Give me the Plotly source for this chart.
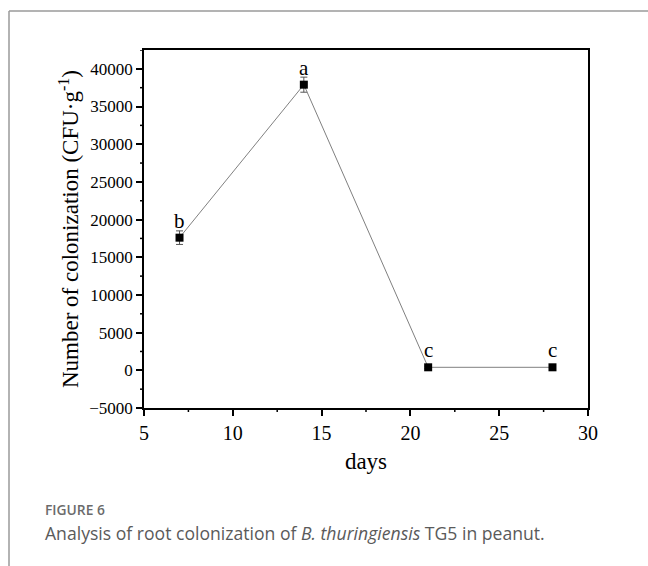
import plotly.graph_objects as go

# Colonization counts over time
days = [7, 14, 21, 28]
cfu = [17600, 37900, 400, 400]
cfu_err = [900, 1000, 150, 150]
letters = ["b", "a", "c", "c"]

x_ticks = [5, 10, 15, 20, 25, 30]
x_tick_text = ["5", "10", "15", "20", "25", "30"]
y_ticks = [-5000, 0, 5000, 10000, 15000, 20000, 25000, 30000, 35000, 40000]
y_tick_text = ["\u22125000", "0", "5000", "10000", "15000", "20000",
               "25000", "30000", "35000", "40000"]
x_minor = [7.5, 12.5, 17.5, 22.5, 27.5]
y_minor = [-2500, 2500, 7500, 12500, 17500, 22500, 27500, 32500, 37500, 42500]

W, H = 648, 566
L, R, T, B = 144, 588, 50, 408  # plot area in pixels

def px_x(px):
    return (px - L) / (R - L)

def px_y(py):
    return (B - py) / (B - T)

serif = "Liberation Serif"
sans = "Open Sans"

fig = go.Figure()
fig.add_trace(go.Scatter(
    x=days, y=cfu,
    mode="lines+markers",
    line=dict(color="#808080", width=1),
    marker=dict(symbol="square", size=8, color="black"),
    error_y=dict(type="data", array=cfu_err, color="#555555", thickness=1, width=3.5),
    showlegend=False,
))

for d, v, t in zip(days, cfu, letters):
    fig.add_annotation(x=d, y=v, text=t, showarrow=False, yshift=17,
                       font=dict(family=serif, size=21, color="black"))

fig.layout.xaxis = dict(
    range=[5, 30], tickmode="array", tickvals=x_ticks, ticktext=x_tick_text,
    tickfont=dict(family=serif, size=20, color="black"),
    showline=True, linecolor="black", linewidth=1.5, mirror=True,
    ticks="outside", ticklen=6, tickwidth=1.5, tickcolor="black",
    showgrid=False, zeroline=False,
    title=dict(text="days", font=dict(family=serif, size=23, color="black"), standoff=10),
)
fig.layout.yaxis = dict(
    range=[-5000, 42500], tickmode="array", tickvals=y_ticks, ticktext=y_tick_text,
    tickfont=dict(family=serif, size=17, color="black"),
    showline=True, linecolor="black", linewidth=1.5, mirror=True,
    ticks="outside", ticklen=6, tickwidth=1.5, tickcolor="black",
    showgrid=False, zeroline=False,
    title=dict(text="Number of colonization (CFU·g<sup>-1</sup>)",
               font=dict(family=serif, size=23, color="black"), standoff=4),
)

# Minor ticks drawn as short segments on the axis lines
for xv in x_minor:
    fig.add_shape(type="line", xref="x", yref="paper", x0=xv, x1=xv,
                  y0=0, y1=-4 / (B - T), line=dict(color="black", width=1.5))
for yv in y_minor:
    fig.add_shape(type="line", xref="paper", yref="y", y0=yv, y1=yv,
                  x0=0, x1=-4 / (R - L), line=dict(color="black", width=1.5))

# Page frame: top rule and left rule
fig.add_shape(type="line", xref="paper", yref="paper",
              x0=px_x(9), x1=px_x(W + 5), y0=px_y(11), y1=px_y(11),
              line=dict(color="#9a9a9a", width=1.5))
fig.add_shape(type="line", xref="paper", yref="paper",
              x0=px_x(9), x1=px_x(9), y0=px_y(11), y1=px_y(H + 5),
              line=dict(color="#9a9a9a", width=1.5))

# Caption
fig.add_annotation(xref="paper", yref="paper", x=px_x(43), y=px_y(509),
                   xanchor="left", yanchor="middle", showarrow=False,
                   text="FIGURE 6",
                   font=dict(family=sans, size=13.8, color="#6b6b6b", weight=600))
fig.add_annotation(xref="paper", yref="paper", x=px_x(43), y=px_y(533),
                   xanchor="left", yanchor="middle", showarrow=False,
                   text="Analysis of root colonization of <i>B. thuringiensis</i> TG5 in peanut.",
                   font=dict(family=sans, size=17.6, color="#5a5a5a"))

fig.update_layout(
    width=W, height=H,
    font=dict(family=serif, size=17, color="black"),
    margin=dict(l=L, r=W - R, t=T, b=H - B, autoexpand=False),
    paper_bgcolor="white", plot_bgcolor="white",
)

fig.write_html("out.html")
